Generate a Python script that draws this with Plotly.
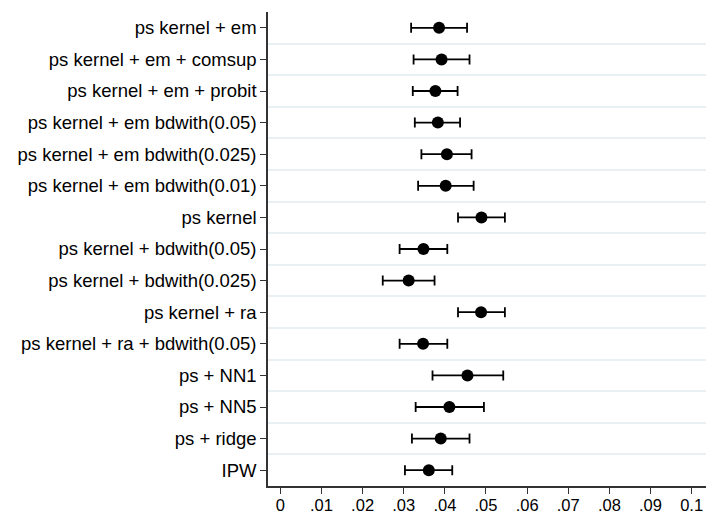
import plotly.graph_objects as go

labels = [
    "ps kernel + em",
    "ps kernel + em + comsup",
    "ps kernel + em + probit",
    "ps kernel + em bdwith(0.05)",
    "ps kernel + em bdwith(0.025)",
    "ps kernel + em bdwith(0.01)",
    "ps kernel",
    "ps kernel + bdwith(0.05)",
    "ps kernel + bdwith(0.025)",
    "ps kernel + ra",
    "ps kernel + ra + bdwith(0.05)",
    "ps + NN1",
    "ps + NN5",
    "ps + ridge",
    "IPW",
]
estimate = [0.0386, 0.0392, 0.0377, 0.0383, 0.0405, 0.0402, 0.0489, 0.0348,
            0.0312, 0.0488, 0.0347, 0.0455, 0.0411, 0.0390, 0.0361]
ci_low = [0.0318, 0.0324, 0.0322, 0.0327, 0.0343, 0.0335, 0.0432, 0.0290,
          0.0249, 0.0432, 0.0290, 0.0370, 0.0329, 0.0320, 0.0303]
ci_high = [0.0454, 0.0460, 0.0431, 0.0437, 0.0465, 0.0470, 0.0546, 0.0406,
           0.0375, 0.0546, 0.0406, 0.0542, 0.0495, 0.0460, 0.0418]
x_tickvals = [0, 0.01, 0.02, 0.03, 0.04, 0.05, 0.06, 0.07, 0.08, 0.09, 0.1]
x_ticktext = ["0", ".01", ".02", ".03", ".04", ".05", ".06", ".07", ".08", ".09", "0.1"]

pos = list(range(1, len(labels) + 1))
err_plus = [h - e for h, e in zip(ci_high, estimate)]
err_minus = [e - l for e, l in zip(estimate, ci_low)]

fig = go.Figure()
fig.add_trace(go.Scatter(
    x=estimate, y=pos, mode="markers",
    marker=dict(color="black", size=12),
    error_x=dict(type="data", array=err_plus, arrayminus=err_minus,
                 color="black", thickness=1.8, width=5),
    showlegend=False,
))

axis_color = "#333333"
fig.update_layout(
    width=706, height=514,
    margin=dict(l=268, r=0, t=12, b=28),
    paper_bgcolor="white", plot_bgcolor="white",
    font=dict(family="Liberation Sans, Arial, sans-serif", size=18.5, color="black"),
    xaxis=dict(
        range=[-0.003, 0.1035], tickvals=x_tickvals, ticktext=x_ticktext,
        showgrid=False, zeroline=False, showline=True, linecolor=axis_color,
        linewidth=1.5, ticks="outside", ticklen=6, tickwidth=1.3, tickcolor=axis_color,
        tickfont=dict(size=16.5), ticklabelstandoff=-3, automargin=False,
    ),
    yaxis=dict(
        range=[15.5, 0.5], tickvals=pos, ticktext=labels,
        showgrid=False, zeroline=False, showline=True, linecolor=axis_color,
        linewidth=1.5, ticks="outside", ticklen=6, tickwidth=1.3, tickcolor=axis_color,
        automargin=False,
        minor=dict(tick0=0.5, dtick=1, showgrid=True, gridcolor="#e9f0f3",
                   gridwidth=1.6, ticks=""),
    ),
)

fig.write_html("out.html")
